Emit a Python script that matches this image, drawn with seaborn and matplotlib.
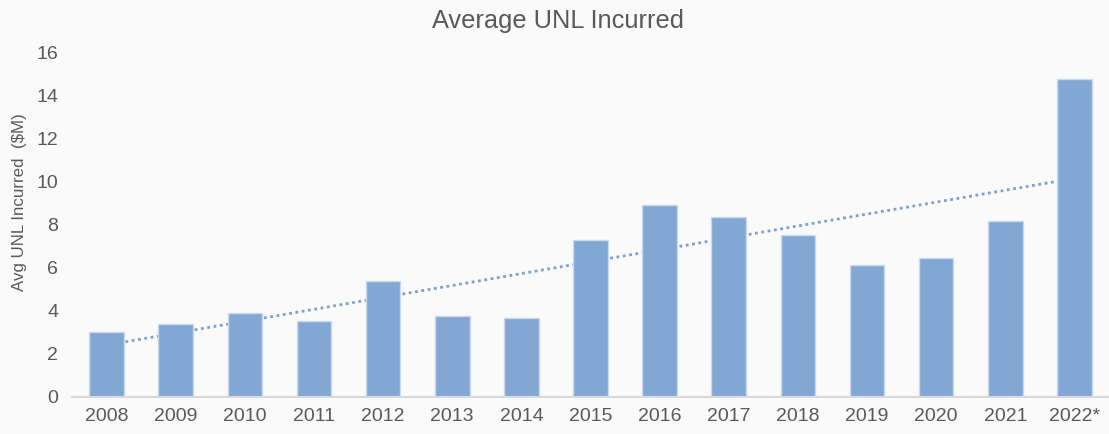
import numpy as np
import pandas as pd
import matplotlib
matplotlib.use("Agg")
import matplotlib.pyplot as plt
import seaborn as sns

# data
years = ["2008", "2009", "2010", "2011", "2012", "2013", "2014", "2015",
         "2016", "2017", "2018", "2019", "2020", "2021", "2022*"]
avg_unl = [3.02, 3.40, 3.90, 3.53, 5.40, 3.77, 3.68, 7.30,
           8.93, 8.37, 7.53, 6.12, 6.47, 8.17, 14.79]

df = pd.DataFrame({"year": years, "avg_unl": avg_unl})

sns.set_theme(style="white")
plt.rcParams["font.family"] = ["Liberation Sans", "DejaVu Sans"]

text_col = "#595959"
bar_col = "#82A7D4"
bg = "#FAFAFA"

fig = plt.figure(figsize=(11.09, 4.34), dpi=100, facecolor=bg)
ax = fig.add_axes([0.0649, 0.0853, 0.9351, 0.7927], facecolor=bg)

# linear trend line, drawn behind the bars
x = np.arange(len(years))
coef = np.polyfit(x, df["avg_unl"], 1)
ax.plot(x, np.polyval(coef, x), linestyle=(0, (1, 1.3)), color="#7A9FD3",
        linewidth=2, zorder=1)

sns.barplot(data=df, x="year", y="avg_unl", color=bar_col, width=0.5,
            saturation=1, edgecolor="#C9D9EE", linewidth=1, ax=ax, zorder=2)

ax.set_xlim(-0.5, len(years) - 0.5)
ax.set_ylim(0, 16)
ax.set_yticks(range(0, 17, 2))
ax.set_xlabel("")
ax.set_ylabel("Avg UNL Incurred  ($M)", fontsize=12.2, color=text_col)
ax.yaxis.set_label_coords(-0.043, 0.567)
ax.tick_params(axis="both", labelsize=14, colors=text_col, length=0)
ax.tick_params(axis="x", pad=8)
ax.tick_params(axis="y", pad=10)

for side in ["top", "right", "left"]:
    ax.spines[side].set_visible(False)
ax.spines["bottom"].set_color("#D9D9D9")
ax.spines["bottom"].set_linewidth(1.5)

fig.text(0.503, 0.952, "Average UNL Incurred", ha="center", va="center",
         fontsize=18.3, color=text_col)

fig.savefig("out.png", dpi=100, facecolor=bg)
